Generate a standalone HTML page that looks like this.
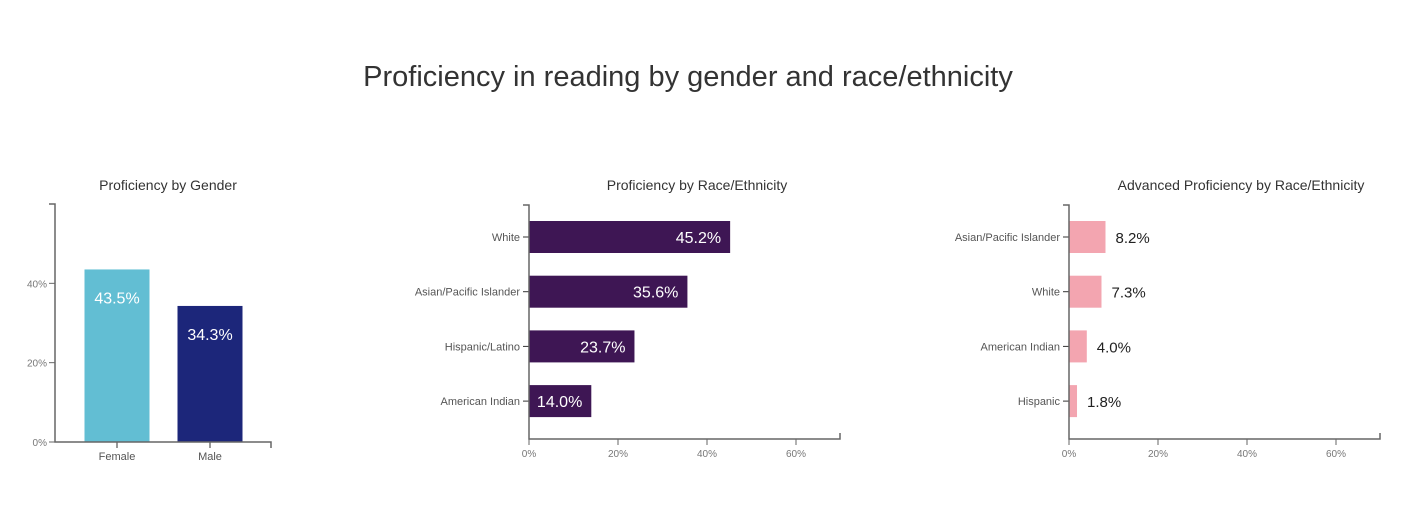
<!DOCTYPE html>
<html><head><meta charset="utf-8">
<style>
html,body{margin:0;padding:0;background:#fff;width:1417px;height:520px;overflow:hidden}
svg{font-family:"Liberation Sans",sans-serif;display:block}
</style></head>
<body>
<svg id="chart" width="1417" height="520">
<text x="688" y="86" text-anchor="middle" font-size="29" fill="#333" font-weight="300">Proficiency in reading by gender and race/ethnicity</text>
</svg>
<script>
const genderCats = ["Female","Male"];
const genderVals = [43.5, 34.3];
const raceCats = ["White","Asian/Pacific Islander","Hispanic/Latino","American Indian"];
const raceVals = [45.2, 35.6, 23.7, 14.0];
const advCats = ["Asian/Pacific Islander","White","American Indian","Hispanic"];
const advVals = [8.2, 7.3, 4.0, 1.8];
const tickVals = [0, 20, 40, 60];

const NS = "http://www.w3.org/2000/svg";
const svg = document.getElementById("chart");
function mk(tag, attrs, parent, txt){
  const e = document.createElementNS(NS, tag);
  for (const k in attrs) e.setAttribute(k, attrs[k]);
  if (txt !== undefined) e.textContent = txt;
  (parent || svg).appendChild(e);
  return e;
}

// Chart 1: vertical bars
(function(){
  const g = mk("g", {});
  
  
  const x0 = 55, x1 = 271, y0 = 442, yTop = 204, max = 60;
  const y = v => y0 - v / max * (y0 - yTop);
  const step = (x1 - x0) / (genderCats.length + 0.3);
  const t = mk("text", {x: 168, y: 190, "text-anchor": "middle", "font-size": 14, fill: "#333"}, g, "Proficiency by Gender");
  
  
  const colors = ["#62bed3", "#1c267a"];
  genderCats.forEach((c, i) => {
    const cx = 117 + i * 93;
    const r = mk("rect", {x: cx - 32.5, y: y(genderVals[i]), width: 65, height: y0 - y(genderVals[i]), fill: colors[i]}, g);
    
    
    const l = mk("text", {x: cx, y: y(genderVals[i]) + 34, "text-anchor": "middle", "font-size": 16, fill: "#fff"}, g, genderVals[i].toFixed(1) + "%");
    
    
    mk("line", {x1: cx, x2: cx, y1: y0, y2: y0 + 6, stroke: "#333"}, g);
    const xl = mk("text", {x: cx, y: y0 + 18, "text-anchor": "middle", "font-size": 11, fill: "#555"}, g, c);
    
    
  });
  mk("path", {d: `M${x0-6},${yTop}H${x0}V${y0}H${x1}V${y0+6}`, fill: "none", stroke: "#666", "stroke-width": 1.5}, g);
  tickVals.slice(0, 3).forEach(v => {
    mk("line", {x1: x0 - 6, x2: x0, y1: y(v), y2: y(v), stroke: "#666"}, g);
    const tl = mk("text", {x: x0 - 8, y: y(v) + 4, "text-anchor": "end", "font-size": 10, fill: "#777"}, g, v + "%");
    
    
  });
})();

// Horizontal charts
function hchart(cats, vals, x0, x1, title, titleX, color, inside, name){
  const g = mk("g", {});
  
  
  const yTop = 205, y0 = 439, max = 60;
  const x = v => x0 + v / max * 267;
  const t = mk("text", {x: titleX, y: 190, "text-anchor": "middle", "font-size": 14, fill: "#333"}, g, title);
  
  
  cats.forEach((c, i) => {
    const top = 221 + i * 54.7, h = 32, cy = top + h / 2;
    const r = mk("rect", {x: x0, y: top, width: x(vals[i]) - x0, height: h, fill: color}, g);
    
    
    const l = inside
      ? mk("text", {x: x(vals[i]) - 9, y: cy + 6, "text-anchor": "end", "font-size": 16, fill: "#fff"}, g, vals[i].toFixed(1) + "%")
      : mk("text", {x: x(vals[i]) + 10, y: cy + 6, "text-anchor": "start", "font-size": 15, fill: "#222"}, g, vals[i].toFixed(1) + "%");
    
    
    mk("line", {x1: x0 - 6, x2: x0, y1: cy, y2: cy, stroke: "#333"}, g);
    const yl = mk("text", {x: x0 - 9, y: cy + 4, "text-anchor": "end", "font-size": 11, fill: "#555"}, g, c);
    
    
  });
  mk("path", {d: `M${x0-6},${yTop}H${x0}V${y0}H${x1}V${y0-6}`, fill: "none", stroke: "#666", "stroke-width": 1.5}, g);
  tickVals.forEach(v => {
    mk("line", {x1: x(v), x2: x(v), y1: y0, y2: y0 + 6, stroke: "#666"}, g);
    const tl = mk("text", {x: x(v), y: y0 + 18, "text-anchor": "middle", "font-size": 10, fill: "#777"}, g, v + "%");
    
    
  });
}
hchart(raceCats, raceVals, 529, 840, "Proficiency by Race/Ethnicity", 697, "#3e1654", true, "race-chart");
hchart(advCats, advVals, 1069, 1380, "Advanced Proficiency by Race/Ethnicity", 1241, "#f3a5b0", false, "advanced-race-chart");
</script>
</body></html>
